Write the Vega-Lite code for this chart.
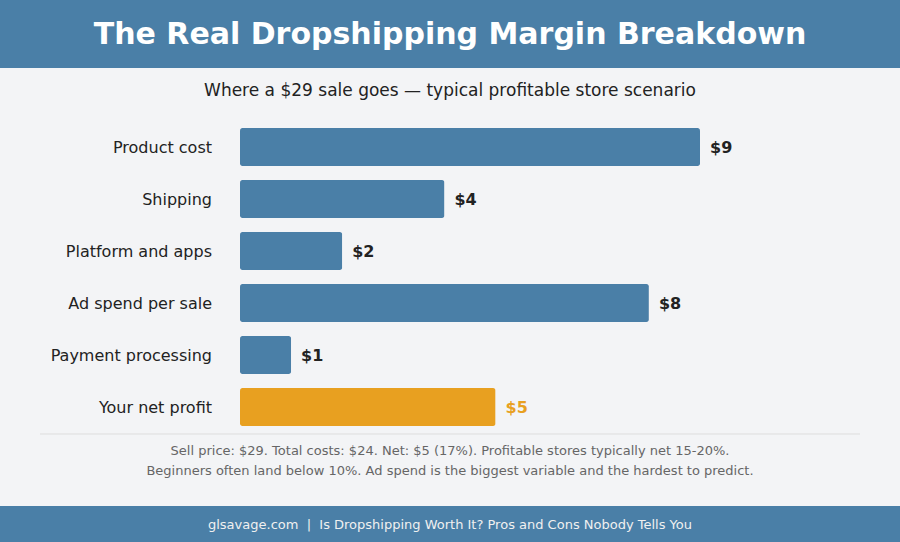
{
  "$schema": "https://vega.github.io/schema/vega-lite/v6.json",
  "padding": 0,
  "background": "#f3f4f6",
  "spacing": 0,
  "config": {"view": {"stroke": null}, "font": "DejaVu Sans"},
  "vconcat": [
    {
      "width": 900,
      "height": 68,
      "view": {"fill": "#4a7fa7", "stroke": null},
      "data": {"values": [{"t": "The Real Dropshipping Margin Breakdown"}]},
      "mark": {"type": "text", "font": "DejaVu Sans", "fontWeight": "bold", "fontSize": 30, "color": "#ffffff", "align": "center", "baseline": "middle", "dy": 1},
      "encoding": {"text": {"field": "t"}}
    },
    {
      "width": 900,
      "height": 53,
      "data": {"values": [{"t": "Where a $29 sale goes — typical profitable store scenario"}]},
      "mark": {"type": "text", "fontSize": 17, "color": "#222222", "align": "center", "baseline": "middle", "dy": -4},
      "encoding": {"text": {"field": "t"}}
    },
    {
      "width": 900,
      "height": 312,
      "data": {"values": [
        {"item": "Product cost", "value": 9, "label": "$9", "kind": "cost"},
        {"item": "Shipping", "value": 4, "label": "$4", "kind": "cost"},
        {"item": "Platform and apps", "value": 2, "label": "$2", "kind": "cost"},
        {"item": "Ad spend per sale", "value": 8, "label": "$8", "kind": "cost"},
        {"item": "Payment processing", "value": 1, "label": "$1", "kind": "cost"},
        {"item": "Your net profit", "value": 5, "label": "$5", "kind": "profit"}
      ]},
      "encoding": {
        "y": {"field": "item", "type": "nominal", "sort": null, "axis": null,
              "scale": {"paddingInner": 0.27, "paddingOuter": 0.135}}
      },
      "layer": [
        {
          "mark": {"type": "bar", "cornerRadius": 2.5},
          "encoding": {
            "x": {"field": "value", "type": "quantitative", "axis": null, "scale": {"domain": [0, 9], "range": [240, 700]}},
            "color": {"field": "kind", "type": "nominal", "legend": null, "scale": {"domain": ["cost", "profit"], "range": ["#4a7fa7", "#e8a020"]}}
          }
        },
        {
          "mark": {"type": "text", "align": "left", "baseline": "middle", "dx": 10, "dy": 1, "fontSize": 16, "fontWeight": "bold"},
          "encoding": {
            "x": {"field": "value", "type": "quantitative"},
            "text": {"field": "label"},
            "color": {"field": "kind", "type": "nominal", "legend": null, "scale": {"domain": ["cost", "profit"], "range": ["#222222", "#e8a020"]}}
          }
        },
        {
          "mark": {"type": "text", "align": "right", "baseline": "middle", "dx": -28, "dy": 1, "fontSize": 16, "color": "#222222"},
          "encoding": {
            "x": {"datum": 0, "type": "quantitative"},
            "text": {"field": "item"}
          }
        }
      ],
      "resolve": {"scale": {"color": "independent"}}
    },
    {
      "width": 900,
      "height": 73,
      "layer": [
        {
          "data": {"values": [{"a": 40, "b": 860}]},
          "mark": {"type": "rule", "color": "#dddddd", "strokeWidth": 1},
          "encoding": {
            "x": {"field": "a", "type": "quantitative", "axis": null, "scale": {"domain": [0, 900], "range": [0, 900]}},
            "x2": {"field": "b"},
            "y": {"value": 1}
          }
        },
        {
          "data": {"values": [
            {"line": 1, "t": "Sell price: $29. Total costs: $24. Net: $5 (17%). Profitable stores typically net 15-20%."},
            {"line": 2, "t": "Beginners often land below 10%. Ad spend is the biggest variable and the hardest to predict."}
          ]},
          "mark": {"type": "text", "fontSize": 13, "color": "#666666", "align": "center", "baseline": "middle", "dy": 1},
          "encoding": {
            "y": {"field": "line", "type": "ordinal", "axis": null, "scale": {"type": "point", "domain": [1, 2], "range": [17, 37], "padding": 0}},
            "text": {"field": "t"}
          }
        }
      ]
    },
    {
      "width": 900,
      "height": 36,
      "view": {"fill": "#4a7fa7", "stroke": null},
      "data": {"values": [{"t": "glsavage.com \u00a0|\u00a0 Is Dropshipping Worth It? Pros and Cons Nobody Tells You"}]},
      "mark": {"type": "text", "fontSize": 13, "color": "#f0f0f0", "align": "center", "baseline": "middle", "dy": 1},
      "encoding": {"text": {"field": "t"}}
    }
  ]
}
